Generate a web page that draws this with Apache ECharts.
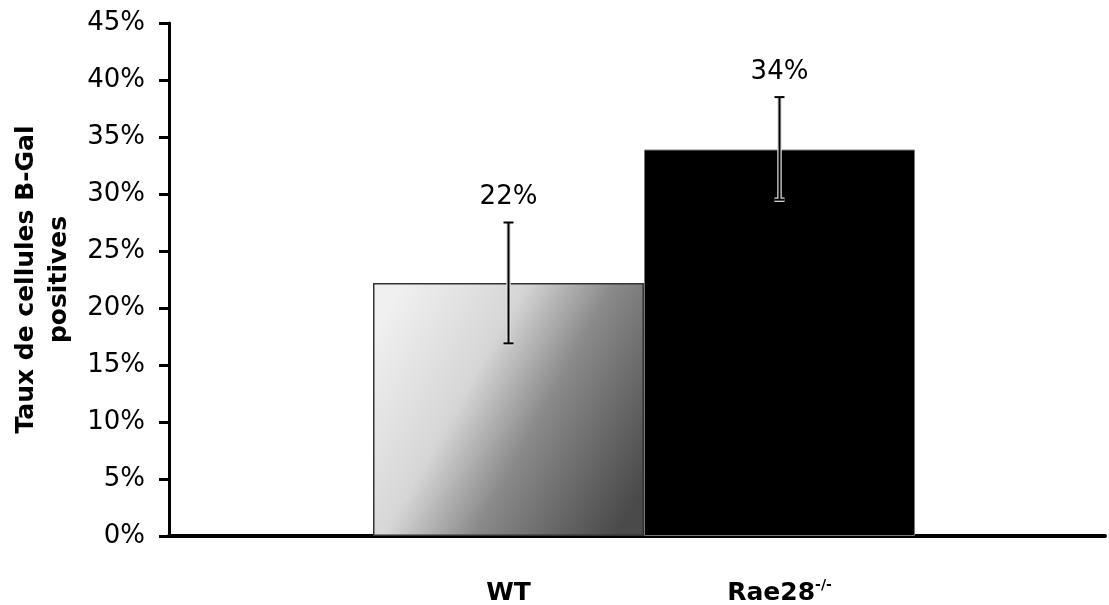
<!DOCTYPE html>
<html><head><meta charset="utf-8">
<script src="https://cdn.jsdelivr.net/npm/echarts@6/dist/echarts.min.js"></script>
<style>html,body{margin:0;padding:0;background:#fff}#c{width:1109px;height:605px}</style>
</head><body><div id="c"></div>
<script>
const categories = ["WT", "Rae28"];
const categorySup = ["", "-/-"];
const values = [22.2, 33.9];
const errLow = [16.9, 29.5];
const errHigh = [27.5, 38.5];
const yTicks = { min: 0, max: 45, interval: 5 };

const chart = echarts.init(document.getElementById('c'));
const F = 'DejaVu Sans';
chart.setOption({
  animation: false,
  backgroundColor: '#fff',
  grid: [
    { left: 169, right: 4, top: 23, bottom: 69, outerBoundsMode: 'none' },
    { left: 373, right: 194, top: 23, bottom: 69, outerBoundsMode: 'none' }
  ],
  xAxis: [
    { gridIndex: 0, type: 'category', data: [''], axisLine: { lineStyle: { color: '#000', width: 4 } },
      axisTick: { show: false }, axisLabel: { show: false } },
    { gridIndex: 1, type: 'category', data: categories, axisLine: { show: false }, axisTick: { show: false },
      axisLabel: { interval: 0, hideOverlap: false, margin: 42, fontFamily: F, fontSize: 25, fontWeight: 'bold', color: '#000',
        lineHeight: 30,
        formatter: (v, i) => '{b|' + v + '}' + (categorySup[i] ? '{s|' + categorySup[i] + '}' : ''),
        rich: { b: { fontFamily: F, fontSize: 25, fontWeight: 'bold', color: '#000', lineHeight: 30 },
                s: { fontFamily: F, fontSize: 14, fontWeight: 'bold', color: '#000', lineHeight: 30, verticalAlign: 'top' } } } }
  ],
  yAxis: [
    { gridIndex: 0, type: 'value', min: yTicks.min, max: yTicks.max, interval: yTicks.interval,
      splitLine: { show: false },
      axisLine: { show: true, lineStyle: { color: '#000', width: 3 } },
      axisTick: { show: true, length: 10, lineStyle: { color: '#000', width: 3 } },
      axisLabel: { margin: 24, fontFamily: F, fontSize: 26, color: '#000', formatter: v => v + '%' },
      name: 'Taux de cellules B-Gal\npositives', nameLocation: 'middle', nameRotate: 90, nameGap: 72,
      nameTextStyle: { fontFamily: F, fontSize: 25, fontWeight: 'bold', color: '#000', lineHeight: 33, align: 'center' } },
    { gridIndex: 1, type: 'value', min: yTicks.min, max: yTicks.max, interval: yTicks.interval, show: false }
  ],
  series: [
    { type: 'bar', xAxisIndex: 1, yAxisIndex: 1, barWidth: '100%', barCategoryGap: 0,
      data: values.map((v, i) => ({ value: v, itemStyle: i === 0 ? {
          color: { type: 'linear', x: 0, y: 0.2, x2: 1, y2: 0.8, colorStops: [
            { offset: 0, color: '#f0f0f0' }, { offset: 0.35, color: '#d6d6d6' }, { offset: 0.6, color: '#8a8a8a' }, { offset: 1, color: '#4a4a4a' }] },
          borderColor: '#333', borderWidth: 1.5 } : { color: '#000', borderColor: '#777', borderWidth: 1 } })) },
    { type: 'custom', xAxisIndex: 1, yAxisIndex: 1, z: 10,
      data: categories.map((c, i) => [i, errLow[i], errHigh[i], values[i]]),
      renderItem: (params, api) => {
        const x = api.coord([api.value(0), 0])[0];
        const lo = api.coord([api.value(0), api.value(1)])[1];
        const hi = api.coord([api.value(0), api.value(2)])[1];
        const label = Math.round(api.value(3)) + '%';
        const hw = 5;
        const halo = { stroke: '#ddd', lineWidth: 4.5 };
        const st = { stroke: '#000', lineWidth: 2 };
        return { type: 'group', children: [
          { type: 'line', shape: { x1: x, y1: lo, x2: x, y2: hi }, style: halo },
          { type: 'line', shape: { x1: x - hw, y1: lo, x2: x + hw, y2: lo }, style: halo },
          { type: 'line', shape: { x1: x, y1: lo, x2: x, y2: hi }, style: st },
          { type: 'line', shape: { x1: x - hw, y1: lo, x2: x + hw, y2: lo }, style: st },
          { type: 'line', shape: { x1: x - hw, y1: hi, x2: x + hw, y2: hi }, style: st },
          { type: 'text', x: x, y: hi - 12, style: { text: label, fontFamily: F, fontSize: 26, fill: '#000',
              align: 'center', verticalAlign: 'bottom' } }
        ] };
      } }
  ]
});
</script></body></html>
